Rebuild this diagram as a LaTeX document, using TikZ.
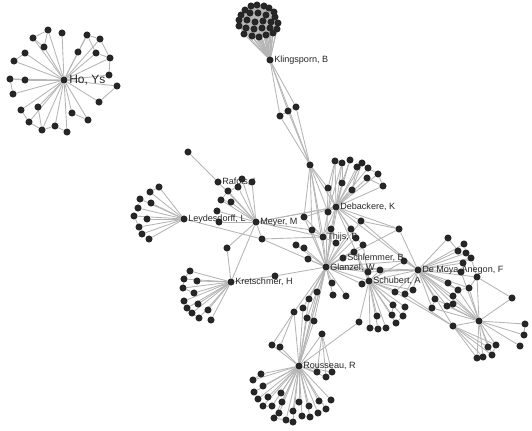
\documentclass[tikz,border=0pt]{standalone}
\usepackage{fontspec}
\setmainfont{Liberation Sans}
\pgfdeclarelayer{bg}\pgfdeclarelayer{mid}
\pgfsetlayers{bg,mid,main}
\begin{document}
\begin{tikzpicture}[x=0.75pt,y=-0.75pt,
 dot/.style={circle,fill=black!85,inner sep=0pt,minimum size=5.3pt},
 edge/.style={draw=black!29,line width=0.65pt},
 lab/.style={anchor=west,inner sep=0pt,font=\fontsize{6.8}{8}\selectfont,text=black!85},
 bigl/.style={anchor=west,inner sep=0pt,font=\fontsize{9}{10}\selectfont,text=black!85},
]
\useasboundingbox (0,0) rectangle (532,430);
% ---------- nodes ----------
\foreach \n/\x/\y in {ho/64/80,
 h1/48/30,h2/33/38,h3/44/47,h4/62/33,h5/87/35,h6/100/39,h7/78/52,h8/96/53,h9/110/58,h10/25/53,
 h11/14/61,h12/10/79,h13/25/80,h14/13/94,h15/109/75,h16/117/86,h17/99/102,h18/21/110,h19/38/107,
 h20/29/122,h21/42/130,h22/55/126,h23/67/132,h24/72/113,h25/88/120,
 kl/270/60,
 k1/251/6,k2/257/5,k3/264/6,k4/269/8,k5/274/12,k6/245/10,k7/241/15,k8/250/13,k9/258/13,k10/266/15,
 k11/275/17,k12/239/20,k13/247/20,k14/255/22,k15/263/21,k16/271/22,k17/278/23,k18/239/26,k19/246/28,
 k20/254/29,k21/262/28,k22/270/28,k23/277/29,k24/244/34,k25/252/36,k26/259/37,k27/266/35,k28/273/33,
 b1/280/116,b2/288/111,b3/296/107,c0/310/165,
 deb/336/207,d1/335/161,d2/342/163,d3/350/160,d4/357/167,d5/362/163,d6/368/168,d7/378/174,
 d8/383/186,d9/367/178,d10/352/190,d11/342/183,d12/328/188,
 m1/328/212,m2/304/217,m3/312/230,m4/331/229,thijs/323/237,m5/351/229,m6/361/221,r0/399/229,
 m8/336/243,m9/356/238,m10/363/245,m11/354/252,m12/296/245,m13/304/248,m14/308/259,schl/343/258,
 glz/326/267,m15/368/272,m16/380/270,m17/404/261,schub/369/281,m18/362/284,m19/332/283,m20/333/295,
 m21/317/292,m22/309/299,m23/346/296,m24/395/292,m25/303/308,m26/294/312,m27/307/318,m28/314/321,
 m29/322/334,m30/359/322,m31/275/276,
 meyer/256/222,rafols/218/182,y1/188/152,y2/242/179,y3/252/182,y4/228/191,y5/238/187,y6/221/200,
 y7/231/202,y8/217/211,y9/219/222,y10/262/239,y11/227/248,
 ley/184/219,l1/159/187,l2/150/192,l3/140/199,l4/151/203,l5/138/208,l6/134/216,l7/147/219,
 l8/139/227,l9/142/234,l10/149/239,
 kret/231/282,t1/190/271,t2/184/279,t3/197/281,t4/183/288,t5/194/293,t6/184/301,t7/198/304,
 t8/187/308,t9/192/313,t10/199/318,t11/208/310,t12/211/320,
 rou/299/366,u1/261/374,u2/253/380,u3/263/386,u4/254/392,u5/268/397,u6/281/393,u7/258/399,
 u8/263/406,u9/272/406,u10/282/402,u11/279/413,u12/274/418,u13/286/420,u14/293/422,u15/293/411,
 u16/299/402,u17/302/416,u18/309/406,u19/310/417,u20/318/413,u21/319/401,u22/326/409,u23/331/400,
 u24/272/345,u25/280/347,u26/317/372,u27/326/377,u28/332/372,
 dm/418/270,e1/448/238,e2/464/244,e3/458/251,e4/466/253,e5/471/258,e6/463/263,e7/461/272,
 e8/477/277,e9/448/283,e10/458/290,e11/469/288,e12/453/296,e13/447/306,e14/453/304,e15/435/299,
 e16/432/308,e17/413/290,e18/405/294,
 hb/479/321,f1/512/298,f2/525/324,f3/524/335,f4/520/346,f5/488/347,f6/496/345,f7/492/355,
 f8/477/358,f9/483/357,fh/453/326,
 s1/370/328,s2/378/329,s3/386/328,s4/377/316,s5/396/323,s6/403/316,s7/392/315,s8/393/305,s9/405/307}
 {\node[dot] (\n) at (\x,\y) {};}
% ---------- labels ----------
\begin{pgfonlayer}{mid}
\node[bigl] (lho) at (69,80) {Ho, Ys};
\node[lab] (lkl) at (274,60) {Klingsporn, B};
\node[lab] (lraf) at (222,182) {Rafols, I};
\node[lab] (lley) at (188,219) {Leydesdorff, L};
\node[lab] (lmey) at (260,222) {Meyer, M};
\node[lab] (ldeb) at (340,207) {Debackere, K};
\node[lab] (lthi) at (327,237) {Thijs, B};
\node[lab] (lsch) at (347,258) {Schlemmer, B};
\node[lab] (lglz) at (330,267.5) {Glanzel, W};
\node[lab] (ldm) at (422,270) {De Moya-Anegon, F};
\node[lab] (lsub) at (373,281) {Schubert, A};
\node[lab] (lkr) at (235,282) {Kretschmer, H};
\node[lab] (lrou) at (303,366) {Rousseau, R};
\end{pgfonlayer}
% ---------- edges ----------
\begin{pgfonlayer}{bg}
\foreach \i in {1,...,25} {\draw[edge] (ho) -- (h\i);}
\foreach \a/\b in {h1/h2,h2/h3,h1/h3,h5/h6,h5/h8,h6/h9,h8/h9,h7/h5,h10/h11,h12/h13,h12/h14,h9/h15,
 h16/h17,h18/h20,h20/h21,h19/h21,h21/h22,h22/h23,h24/h25} {\draw[edge] (\a) -- (\b);}
\foreach \i in {1,...,27} {\pgfmathtruncatemacro\nx{\i+1}
 \foreach \j in {\nx,...,28} {\draw[edge] (k\i) -- (k\j);}}
\foreach \i in {1,...,28} {\draw[edge] (kl) -- (k\i);}
\foreach \b in {b1,b2,b3,c0} {\draw[edge] (kl) -- (\b);}
\foreach \a/\b in {b1/b2,b2/b3,b1/c0,b2/c0,b3/c0} {\draw[edge] (\a) -- (\b);}
\foreach \b in {d1,d2,d3,d4,d5,d6,d7,d8,d9,d10,d11,d12,c0,m1,m4,m5,m6,r0,dm,schub,glz,thijs,meyer,m9,m2}
 {\draw[edge] (deb) -- (\b);}
\foreach \a/\b in {d7/d8,d6/d7,d9/d8,d1/d12,d2/d11,d3/d11,d4/d10,d5/d10,c0/d12,d1/m1,d2/m1,d12/glz,d11/glz}
 {\draw[edge] (\a) -- (\b);}
\foreach \b in {m1,m2,thijs,glz,m3} {\draw[edge] (c0) -- (\b);}
\foreach \b in {glz,meyer,m1,m3,m4,m8,y10,m2} {\draw[edge] (thijs) -- (\b);}
\foreach \b in {m2,m3,m4,m5,m6,m8,m9,m10,m11,m12,m13,m14,schl,m15,m16,m17,dm,schub,m18,m19,m20,m21,
 m22,m23,m25,m26,m27,m28,rou,m31,y10,r0} {\draw[edge] (glz) -- (\b);}
\foreach \b in {rafols,y2,y3,y4,y5,y6,y7,y8,y9,y10,y11,kret,deb,m3} {\draw[edge] (meyer) -- (\b);}
\foreach \a/\b in {rafols/y1,y4/y5,y6/y4,y6/y7} {\draw[edge] (\a) -- (\b);}
\foreach \b in {l1,l2,l3,l4,l5,l6,l7,l8,l9,l10,y10} {\draw[edge] (ley) -- (\b);}
\foreach \a/\b in {l3/l5,l6/l8,l1/l2,y11/kret,m31/kret} {\draw[edge] (\a) -- (\b);}
\foreach \b in {t1,t2,t3,t4,t5,t6,t7,t8,t9,t10,t11,t12} {\draw[edge] (kret) -- (\b);}
\foreach \a/\b in {t2/t4,t4/t5,t6/t8,t8/t9,t9/t10,t1/t2} {\draw[edge] (\a) -- (\b);}
\foreach \i in {1,...,28} {\draw[edge] (rou) -- (u\i);}
\foreach \b in {m26,m25,m27,m28,m29,m30,glz,m22,m21} {\draw[edge] (rou) -- (\b);}
\foreach \a/\b in {u24/m26,u25/m26,m29/u26,m29/u27,m29/u28,u1/u2,u4/u7,u8/u9,u11/u12,u12/u13,
 u13/u14,u17/u19,u20/u22} {\draw[edge] (\a) -- (\b);}
\foreach \b in {s1,s2,s3,s4,s5,s6,s7,s8,s9,m30,m18,m15,m16,m24,dm,e17,e18,m17,m10,m11}
 {\draw[edge] (schub) -- (\b);}
\foreach \a/\b in {s1/s2,s5/s6,s6/s9,s7/s8} {\draw[edge] (\a) -- (\b);}
\foreach \i in {1,...,18} {\draw[edge] (dm) -- (e\i);}
\foreach \b in {r0,m16,m17,m24,m6,hb,fh,m15} {\draw[edge] (dm) -- (\b);}
\draw[edge] (r0) -- (m6);
\foreach \b in {f1,f2,f3,f4,f5,f6,f7,f8,f9,fh,e7,e8,e10,e11,e13,e14,e15,e16,e12} {\draw[edge] (hb) -- (\b);}
\foreach \b in {f5,f6,f7,f8,f9,m24,e18} {\draw[edge] (fh) -- (\b);}
\foreach \a/\b in {f1/e8,e3/e4,e2/e4,e4/e5,e6/e5,e7/e6,e9/e10,e10/e11,e11/e8,e12/e10,e13/e14,e15/e16,
 e5/e8,e1/e3,f2/f3,f5/f6,f7/f6,f8/f9,m10/m9,m12/m13} {\draw[edge] (\a) -- (\b);}
\end{pgfonlayer}
\end{tikzpicture}
\end{document}
